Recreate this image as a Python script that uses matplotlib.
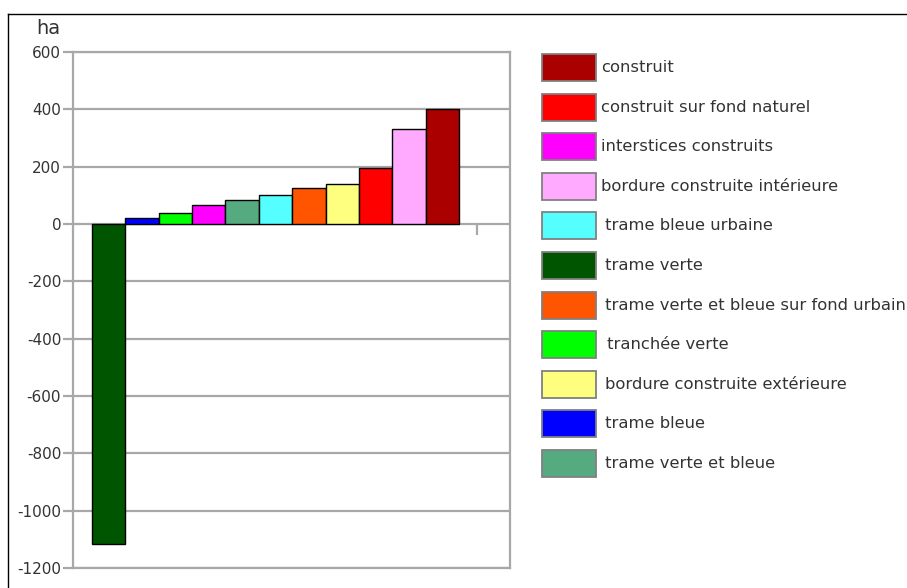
import matplotlib.pyplot as plt
from matplotlib.patches import Rectangle
from matplotlib.lines import Line2D

# Barres, dans l'ordre de gauche à droite
categories = [
    "trame verte",
    "trame bleue",
    "tranchée verte",
    "interstices construits",
    "trame verte et bleue",
    "trame bleue urbaine",
    "trame verte et bleue sur fond urbain",
    "bordure construite extérieure",
    "construit sur fond naturel",
    "bordure construite intérieure",
    "construit",
]
values = [-1115, 20, 40, 68, 83, 102, 124, 138, 194, 332, 400]

colors = {
    "construit": "#aa0000",
    "construit sur fond naturel": "#ff0000",
    "interstices construits": "#ff00ff",
    "bordure construite intérieure": "#ffaaff",
    "trame bleue urbaine": "#55ffff",
    "trame verte": "#005500",
    "trame verte et bleue sur fond urbain": "#ff5500",
    "tranchée verte": "#00ff00",
    "bordure construite extérieure": "#ffff7f",
    "trame bleue": "#0000ff",
    "trame verte et bleue": "#55aa80",
}

legend_order = [
    "construit",
    "construit sur fond naturel",
    "interstices construits",
    "bordure construite intérieure",
    "trame bleue urbaine",
    "trame verte",
    "trame verte et bleue sur fond urbain",
    "tranchée verte",
    "bordure construite extérieure",
    "trame bleue",
    "trame verte et bleue",
]
# petit décalage du texte de légende, comme sur l'original
legend_text_shift = [0, 0, 0, 0, 4, 4, 4, 6, 4, 4, 4]

yticks = list(range(-1200, 601, 200))

W, H = 907, 588
grey = "#a8a8a8"
textc = "#333333"

fig = plt.figure(figsize=(W / 100, H / 100), dpi=100)
ax = fig.add_axes([73 / W, 1 - 568 / H, (510 - 73) / W, (568 - 52) / H])

x = list(range(len(categories)))
ax.bar(x, values, width=1.0, color=[colors[c] for c in categories],
       edgecolor="black", linewidth=1.0, zorder=3)

ax.set_xlim(-1.07, 12.03)
ax.set_ylim(-1200, 600)
ax.set_yticks(yticks)
ax.set_yticklabels([str(v) for v in yticks])
ax.set_xticks([])
ax.set_axisbelow(True)
ax.yaxis.grid(True, color=grey, linewidth=1.6)
for side in ["left", "right", "top", "bottom"]:
    ax.spines[side].set_color(grey)
    ax.spines[side].set_linewidth(1.6)
ax.tick_params(axis="y", direction="out", length=7, width=1.6, color=grey,
               labelsize=11, labelcolor=textc, pad=1.5)

# petite graduation de l'axe des catégories au niveau zéro (vers le bas)
sec = ax.secondary_xaxis(2 / 3)
sec.set_xticks([11.04])
sec.set_xticklabels([""])
for side in ["top", "bottom"]:
    sec.spines[side].set_visible(False)
sec.tick_params(direction="in", length=8, width=1.6, color=grey)

fig.text(36 / W, 1 - 34 / H, "ha", fontsize=14, color=textc, ha="left", va="baseline")

# cadre extérieur
fig.add_artist(Line2D([8 / W, 8 / W], [0, 1 - 14 / H], color="black", linewidth=1.0,
                      transform=fig.transFigure))
fig.add_artist(Line2D([8 / W, 1], [1 - 14 / H, 1 - 14 / H], color="black", linewidth=1.0,
                      transform=fig.transFigure))

# légende
for i, name in enumerate(legend_order):
    cy = 67.7 + i * 39.56
    fig.add_artist(Rectangle((542 / W, 1 - (cy + 13.5) / H), 54 / W, 27 / H,
                             facecolor=colors[name], edgecolor="#808080", linewidth=1.3,
                             transform=fig.transFigure))
    fig.text((601 + legend_text_shift[i]) / W, 1 - cy / H, name, fontsize=11.8,
             color=textc, ha="left", va="center")

fig.savefig("out.png", dpi=100)
